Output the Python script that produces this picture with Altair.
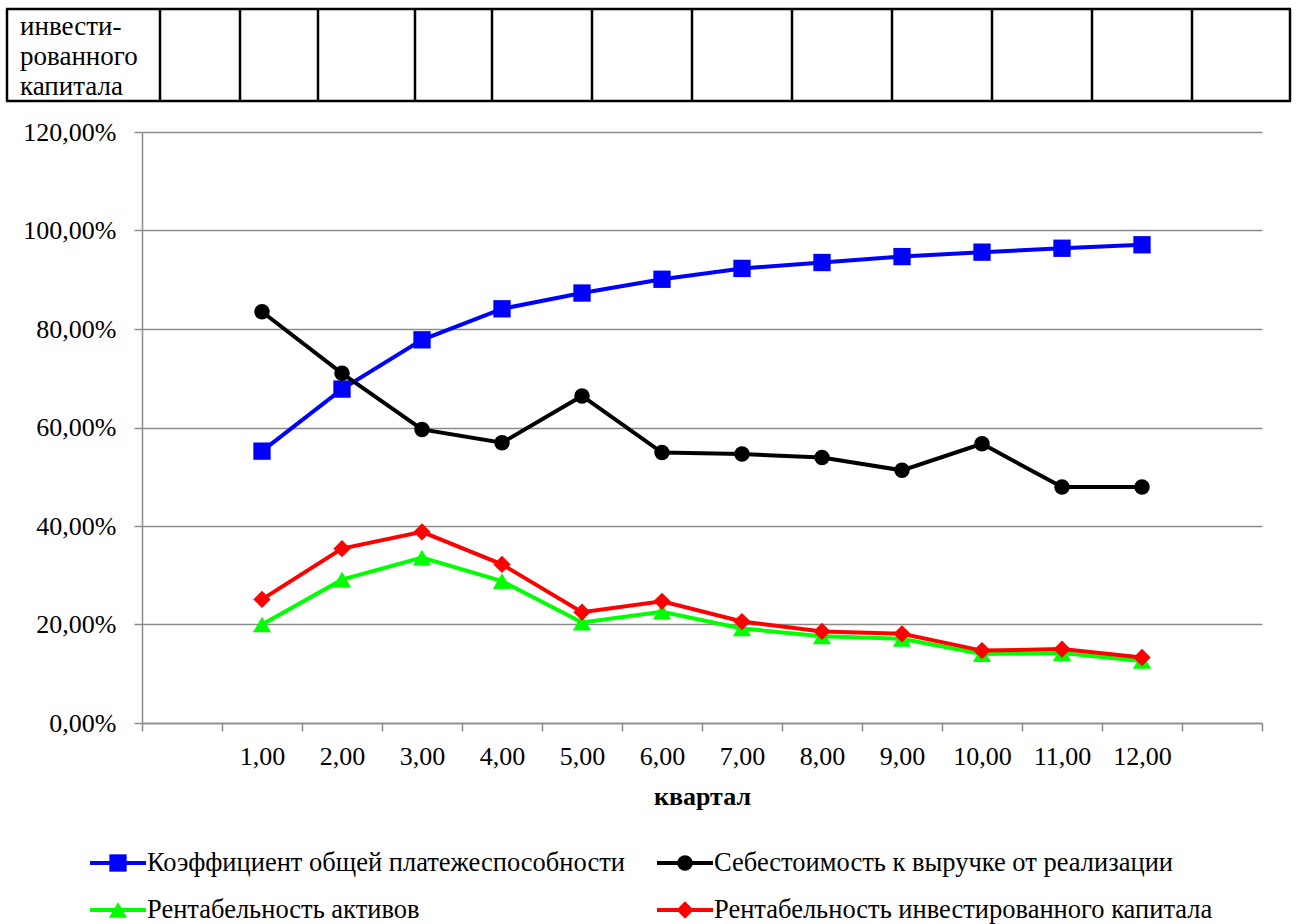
import altair as alt
import pandas as pd

# ---------------- data ----------------
quarters = list(range(1, 13))
series_names = [
    "Коэффициент общей платежеспособности",
    "Себестоимость к выручке от реализации",
    "Рентабельность активов",
    "Рентабельность инвестированного капитала",
]
solvency = [55.2, 67.8, 77.8, 84.1, 87.3, 90.1, 92.3, 93.5, 94.7, 95.6, 96.4, 97.1]
cost_ratio = [83.5, 71.0, 59.6, 56.9, 66.4, 54.9, 54.6, 53.9, 51.3, 56.7, 47.9, 47.9]
roa = [20.0, 29.1, 33.6, 28.8, 20.4, 22.6, 19.2, 17.6, 17.1, 14.0, 14.2, 12.6]
roic = [25.1, 35.4, 38.8, 32.2, 22.5, 24.7, 20.6, 18.6, 18.1, 14.7, 15.0, 13.3]
series_values = [solvency, cost_ratio, roa, roic]

colors = ["#0000ff", "#000000", "#00ff00", "#ff0000"]
shapes = ["square", "circle", "triangle-up", "diamond"]
sizes = [300, 240, 330, 300]

x_tick_values = [i - 0.5 for i in range(15)]
y_tick_values = [0.0, 0.2, 0.4, 0.6, 0.8, 1.0, 1.2]
table_text = ["инвести-", "рованного", "капитала"]
table_cols = [7, 160, 240, 318, 415, 492, 592, 692, 792, 892, 992, 1092, 1192, 1290]

# ---------------- layout ----------------
W, H = 1120, 591
OX, OY = 142, 132
FONT = "Liberation Serif"
GRAY = "#8c8c8c"
FS = 26

rows = []
for name, vals in zip(series_names, series_values):
    for q, v in zip(quarters, vals):
        rows.append({"series": name, "quarter": q, "value": v / 100.0})
df = pd.DataFrame(rows)

x_enc = alt.X(
    "quarter:Q",
    scale=alt.Scale(domain=[-0.5, 13.5], nice=False, zero=False),
    axis=alt.Axis(
        values=x_tick_values,
        labelOffset=40,
        labelExpr="(datum.value + 0.5 >= 1 && datum.value + 0.5 <= 12) ? replace(format(datum.value + 0.5, '.2f'), '.', ',') : ''",
        grid=False,
        tickSize=8,
        tickColor=GRAY,
        tickWidth=1.5,
        domainColor=GRAY,
        domainWidth=1.5,
        labelFont=FONT,
        labelFontSize=FS,
        labelColor="black",
        labelPadding=12,
        labelFlush=False,
        labelOverlap=False,
        title="квартал",
        titleFont=FONT,
        titleFontSize=FS,
        titleFontWeight="bold",
        titleColor="black",
        titlePadding=14,
    ),
)
y_enc = alt.Y(
    "value:Q",
    scale=alt.Scale(domain=[0, 1.2], nice=False),
    axis=alt.Axis(
        values=y_tick_values,
        labelExpr="replace(format(datum.value, '.2%'), '.', ',')",
        grid=True,
        gridColor=GRAY,
        gridWidth=1.5,
        tickSize=8,
        tickColor=GRAY,
        tickWidth=1.5,
        domainColor=GRAY,
        domainWidth=1.5,
        labelFont=FONT,
        labelFontSize=FS,
        labelColor="black",
        labelPadding=18,
        title=None,
    ),
)

base = alt.Chart(df)
layers = []
for name, color, shape, size in zip(series_names, colors, shapes, sizes):
    sub = base.transform_filter(alt.datum.series == name)
    layers.append(sub.mark_line(color=color, strokeWidth=4).encode(x=x_enc, y=y_enc))
    layers.append(
        sub.mark_point(filled=True, shape=shape, size=size, color=color, opacity=1).encode(x=x_enc, y=y_enc)
    )

one = alt.Data(values=[{}])

# ---------------- table fragment on top ----------------
for c in table_cols:
    layers.append(
        alt.Chart(one).mark_rule(color="black", strokeWidth=2.5).encode(
            x=alt.value(c - OX), y=alt.value(9 - OY), y2=alt.value(101 - OY)
        )
    )
for ry in [9, 101]:
    layers.append(
        alt.Chart(one).mark_rule(color="black", strokeWidth=2.5).encode(
            y=alt.value(ry - OY), x=alt.value(table_cols[0] - OX - 1), x2=alt.value(table_cols[-1] - OX + 1)
        )
    )
for i, t in enumerate(table_text):
    layers.append(
        alt.Chart(one).mark_text(align="left", baseline="alphabetic", font=FONT, fontSize=27, color="black").encode(
            x=alt.value(20 - OX), y=alt.value(35 + 30 * i - OY), text=alt.value(t)
        )
    )

# ---------------- legend ----------------
leg_cols = [90, 657]
leg_rows = [863, 910]
for i, (name, color, shape, size) in enumerate(zip(series_names, colors, shapes, sizes)):
    lx = leg_cols[i % 2] - OX
    ly = leg_rows[i // 2] - OY
    layers.append(
        alt.Chart(one).mark_rule(color=color, strokeWidth=4).encode(
            x=alt.value(lx), x2=alt.value(lx + 56), y=alt.value(ly)
        )
    )
    layers.append(
        alt.Chart(one).mark_point(filled=True, shape=shape, size=size, color=color, opacity=1).encode(
            x=alt.value(lx + 28), y=alt.value(ly)
        )
    )
    layers.append(
        alt.Chart(one).mark_text(align="left", baseline="middle", font=FONT, fontSize=26.5, color="black").encode(
            x=alt.value(lx + 57), y=alt.value(ly), text=alt.value(name)
        )
    )

chart = alt.layer(*layers).properties(
    width=W,
    height=H,
    autosize=alt.AutoSizeParams(type="none"),
    padding={"left": OX, "top": OY, "right": 1297 - OX - W, "bottom": 924 - OY - H},
    background="white",
).configure_view(stroke=None)

chart.save("out.html", embed_options={"renderer": "svg", "actions": False})
